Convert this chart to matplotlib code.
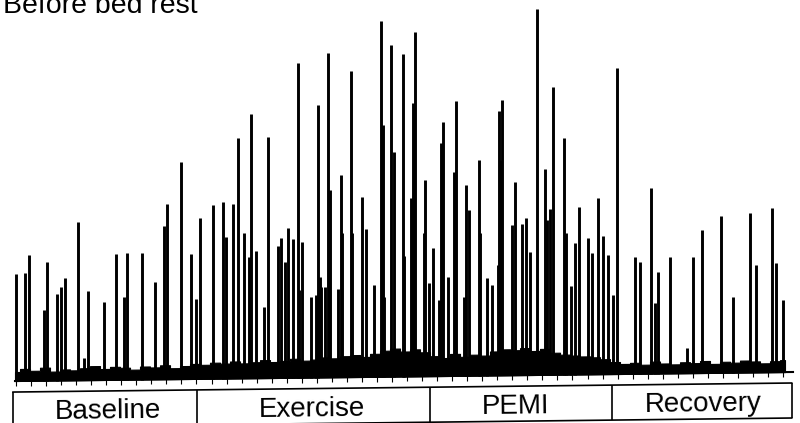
import numpy as np
import matplotlib
matplotlib.use("Agg")
import matplotlib.pyplot as plt
import matplotlib.transforms as mtransforms

# ---------------- data ----------------
title = "Before bed rest"
phases = ["Baseline", "Exercise", "PEMI", "Recovery"]
phase_edges = [13, 197, 430, 611.7, 791.7]          # time units
phase_label_x = [107.5, 311.5, 516, 703]

spike_time = [16, 25, 29, 44, 47, 57, 61, 65, 78, 84, 88, 104, 116, 124, 127, 142,
              155, 164, 167, 180.5, 190.5, 195.7, 200.3,
              213.3, 223.3, 226, 233.3, 237.7, 243.7, 248.7, 251, 256, 264, 267.7,
              278, 280.7, 285, 287.7, 292.7, 297.5, 299, 301.7, 311, 315.7, 318.3,
              319.5, 321, 325, 328.3, 330, 338.3, 341, 341.7, 350.7, 352, 362.3,
              365.7, 374.3, 380.7, 382.5, 384.3, 390.5, 393.8, 402.7, 404, 411.3,
              413.3, 414.7, 423.5, 424.7, 429,
              433.3, 439.3, 440.7, 443.3, 448.3, 454, 456.3, 464, 466, 469, 478.7,
              480, 487, 492.3, 497.7, 498.7, 500.5, 502.3, 511.7, 515.3, 521.7,
              525.7, 530.3, 537.3, 545, 547, 549.7, 553.3, 564, 566, 570.7, 575,
              579.3, 588, 592, 598.3, 602.7, 607.7, 613.3,
              616.7, 635, 640.3, 651, 654.7, 658.3, 670, 686.7, 692.5, 701.7,
              721.2, 733.3, 749.8, 755.8, 771.7, 775.5, 782.7]
spike_amp = [107, 108, 126, 71, 119, 87, 93, 102, 158, 22, 89, 78, 126, 83, 127, 127,
             97, 153, 175, 217, 125, 80, 161,
             174, 177, 142, 174, 240, 145, 121, 264, 127, 71, 241,
             132, 140, 116, 150, 139, 315, 88, 136, 81, 83, 273,
             100, 90, 90, 324, 187, 88, 202, 144, 306, 144, 180,
             148, 92, 356, 252, 80, 332, 225, 323, 121, 178,
             273, 344, 143, 196, 93,
             128, 76, 233, 254, 99, 204, 275, 79, 191, 166, 216,
             143, 98, 90, 110, 264, 215, 275, 150, 193, 151,
             157, 123, 366, 206, 155, 166, 288, 237, 142, 89, 132,
             167, 136, 121, 176, 138, 119, 79,
             306, 117, 112, 186, 71, 102, 116, 25, 116, 143,
             157, 76, 159, 107, 164, 109, 72]

band_time = np.arange(15, 786, 10)
band_amp = [9, 12, 10, 13, 9, 11, 10, 12, 14, 11, 13, 12, 10, 13, 12, 14, 11, 13, 15,
            14, 16, 15, 17, 15, 16, 18, 16, 17, 19, 17, 18, 20, 19, 21, 22, 20, 23,
            26, 28, 25, 27, 24,
            20, 18, 22, 19, 21, 20, 24, 26, 25, 27, 24, 26, 22, 20, 19, 18, 17, 15,
            12, 10, 11, 9, 12, 10, 9, 11, 10, 12, 9, 11, 10, 12, 11, 9, 11, 12]

# ---------------- layout ----------------
W, H = 800, 423
fig = plt.figure(figsize=(W / 100, H / 100), dpi=100)
ax = fig.add_axes([0, 0, 1, 1])
ax.set_xlim(0, W)
ax.set_ylim(0, H)
ax.axis("off")

TILT = 0.6653  # scan skew, degrees
tr = mtransforms.Affine2D().skew_deg(0, TILT) + ax.transData
AXIS_Y = 41.8
BOX_TOP = 30.8
BOX_BOT = -4.2
FONT = ["Liberation Sans", "DejaVu Sans"]

# noise band
ax.fill_between(band_time, AXIS_Y, AXIS_Y + np.array(band_amp), transform=tr,
                color="black", lw=0.8, step="mid")
# spikes
ax.vlines(spike_time, AXIS_Y, AXIS_Y + np.array(spike_amp), transform=tr,
          colors="black", lw=2.1)

# axis line and ticks
ax.plot([15, 793], [AXIS_Y, AXIS_Y], transform=tr, color="black", lw=1.5)
ticks = 16 + 15.04 * np.arange(52)
ax.vlines(ticks, AXIS_Y - 5, AXIS_Y, transform=tr, colors="black", lw=0.8)

# phase boxes
ax.plot([phase_edges[0], phase_edges[-1]], [BOX_TOP, BOX_TOP], transform=tr,
        color="black", lw=1.2)
ax.plot([phase_edges[0], phase_edges[-1]], [BOX_BOT, BOX_BOT], transform=tr,
        color="black", lw=1.2)
ax.vlines(phase_edges, BOX_BOT, BOX_TOP, transform=tr, colors="black", lw=1.2)
for name, cx in zip(phases, phase_label_x):
    ax.text(cx, 3.3, name, transform=tr, ha="center", va="baseline",
            fontsize=20, family=FONT, rotation=TILT, rotation_mode="anchor")

fig.text(3 / W, 1 - 12.7 / H, title, ha="left", va="baseline",
         fontsize=20.5, family=FONT)

fig.savefig("out.png", dpi=100)
